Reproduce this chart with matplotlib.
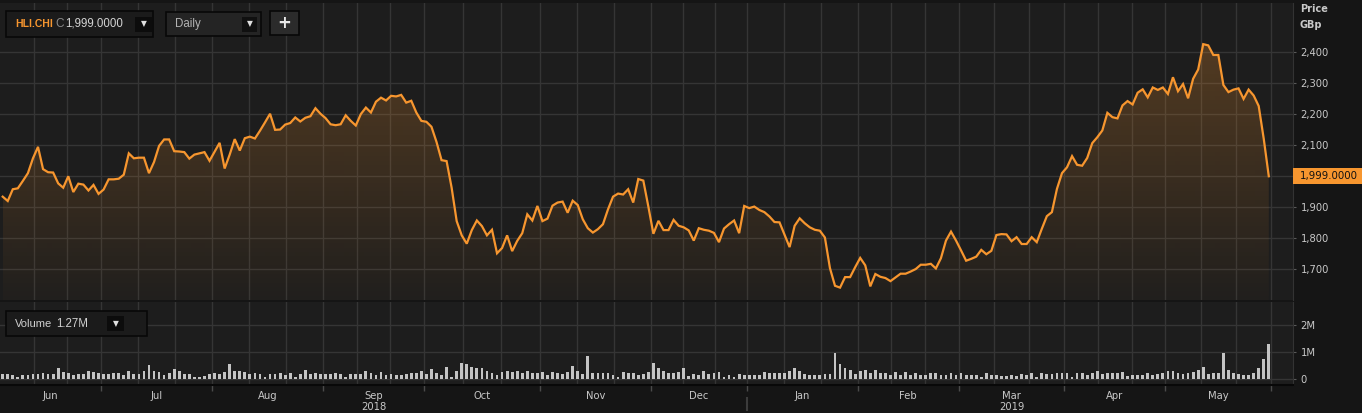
import matplotlib
matplotlib.use("Agg")
import matplotlib.pyplot as plt
import numpy as np
import pandas as pd
from matplotlib.patches import Rectangle
from matplotlib.colors import to_rgb
from matplotlib.transforms import blended_transform_factory

# daily closes (GBp), 4 Jun 2018 .. 31 May 2019
price = [
    1933, 1919, 1957, 1960, 1984, 2009, 2057, 2094, 2022, 2012,
    2011, 1976, 1962, 1999, 1948, 1975, 1972, 1953, 1971, 1942,
    1956, 1989, 1989, 1991, 2004, 2073, 2057, 2059, 2059, 2009,
    2045, 2097, 2118, 2118, 2080, 2079, 2077, 2056, 2069, 2073,
    2077, 2049, 2078, 2107, 2024, 2069, 2119, 2082, 2122, 2127,
    2121, 2146, 2173, 2201, 2149, 2150, 2166, 2171, 2189, 2176,
    2188, 2193,
    2219, 2201, 2187, 2167, 2164, 2167, 2196, 2178, 2163, 2200,
    2221, 2205, 2240, 2253, 2244, 2259, 2257, 2262, 2237, 2243,
    2205, 2178, 2175, 2159, 2110, 2051, 2048, 1962, 1854, 1808,
    1781, 1825, 1856, 1838, 1808, 1826, 1750, 1767, 1808, 1757,
    1790, 1815, 1876, 1856, 1903, 1854, 1862, 1904, 1914, 1917,
    1881, 1920, 1906, 1860, 1831, 1817, 1828, 1844, 1892, 1933,
    1943, 1940, 1957,
    1914, 1990, 1985, 1901, 1813, 1855, 1825, 1825, 1858, 1839,
    1834, 1824, 1791, 1831, 1826, 1823, 1816, 1786, 1830, 1844,
    1856, 1815, 1903, 1896, 1901, 1890, 1883, 1869, 1851, 1850,
    1810, 1770, 1839, 1863, 1847, 1834, 1826, 1823, 1801, 1702,
    1645, 1639, 1673, 1673, 1705, 1735, 1711, 1643, 1683, 1674,
    1670, 1660, 1672, 1684, 1684, 1691, 1699, 1713, 1713, 1716,
    1701, 1734, 1791,
    1820, 1791, 1759, 1726, 1732, 1739, 1761, 1747, 1758, 1809,
    1812, 1811, 1789, 1802, 1780, 1780, 1802, 1786, 1829, 1870,
    1883, 1958, 2009, 2028, 2064, 2036, 2033, 2058, 2106, 2125,
    2147, 2204, 2190, 2186, 2228, 2242, 2231, 2269, 2280, 2254,
    2286, 2278, 2286, 2265, 2319, 2274, 2297, 2251, 2314, 2344,
    2426, 2422, 2391, 2391, 2294, 2271, 2279, 2283, 2249, 2279,
    2260, 2226, 2120, 1999,
]

# daily volume, millions of shares
volume = [
    .17, .19, .15, .07, .12, .15, .17, .19, .22, .16,
    .17, .38, .25, .21, .15, .17, .17, .27, .25, .20,
    .19, .19, .21, .20, .15, .30, .17, .16, .27, .51,
    .30, .25, .12, .20, .36, .28, .16, .19, .07, .07,
    .10, .16, .20, .16, .25, .54, .30, .27, .26, .16,
    .22, .17, .06, .17, .17, .21, .15, .22, .07, .17,
    .31, .16, .21, .17, .17, .17, .20, .16, .07, .17,
    .17, .19, .27, .21, .12, .25, .15, .17, .15, .15,
    .17, .20, .20, .30, .17, .35, .20, .15, .42,
    .07, .27, .59, .56, .43, .40, .40, .27, .22, .15,
    .25, .27, .25, .30, .22, .27, .20, .20, .25, .15,
    .25, .20, .17, .25, .47, .27, .17, .85, .20, .22,
    .22, .20, .12, .07, .25, .22, .22, .12, .17, .25,
    .59, .40, .27, .22, .22, .25, .40, .10, .17, .15,
    .27, .17, .20, .25, .05, .12, .05, .17, .12, .12,
    .12, .12, .25, .20, .20, .22, .22, .30, .40, .27,
    .17, .15, .12, .12, .17, .17, .96, .54, .40, .32,
    .17, .27, .32, .20, .32, .20, .20, .15, .25,
    .12, .25, .15, .22, .12, .12, .20, .20, .15, .12,
    .22, .12, .20, .15, .12, .12, .07, .20, .15, .12,
    .10, .10, .12, .10, .17, .12, .20, .07, .20, .17,
    .17, .22, .22, .22, .07, .20, .20, .12, .20, .27,
    .17, .20, .22, .20, .25, .10, .12, .12, .12, .22,
    .12, .17, .22, .27, .30, .22, .17, .20, .25, .32,
    .44, .17, .20, .20, .96, .32, .20, .17, .15, .12,
    .22, .40, .74, 1.27,
]

uk_holidays = ["2018-08-27", "2018-12-25", "2018-12-26", "2019-01-01",
               "2019-04-19", "2019-04-22", "2019-05-06", "2019-05-27"]
price_ticks = [1700, 1800, 1900, 2000, 2100, 2200, 2300, 2400]
volume_ticks = [0, 1, 2]
volume_labels = ["0", "1M", "2M"]
ticker = "HLI.CHI"
interval = "Daily"

dates = pd.bdate_range("2018-06-04", "2019-05-31", freq="C", holidays=uk_holidays)
x = np.arange(len(price))

W, H = 1362, 413
ORANGE = "#f7962f"
GRID = "#353535"
TXT = "#c8c8c8"
BG = "#1d1d1d"
UI_FONT = ["Liberation Sans", "DejaVu Sans"]

fig = plt.figure(figsize=(W / 100, H / 100), dpi=100, facecolor="#151515")
ax = fig.add_axes([0, 1 - 300 / H, 1293 / W, 297 / H])
axv = fig.add_axes([0, 1 - 385 / H, 1293 / W, 83 / H])

for a in (ax, axv):
    a.set_facecolor(BG)
    for s in ("top", "left", "bottom"):
        a.spines[s].set_visible(False)
    a.spines["right"].set_color("#333333")
    a.yaxis.tick_right()
axv.spines["bottom"].set_visible(True)
axv.spines["bottom"].set_color("#080808")
axv.spines["bottom"].set_linewidth(1.5)

# month boundaries, thirds for vertical grid, centres for labels
mon = dates.to_period("M")
starts = [0] + [i for i in range(1, len(dates)) if mon[i] != mon[i - 1]]
bounds = [s - 0.5 for s in starts] + [len(dates) - 0.5]
centres = [(bounds[k] + bounds[k + 1]) / 2 for k in range(len(starts))]
vgrid = []
for k in range(len(starts)):
    b0, b1 = bounds[k], bounds[k + 1]
    vgrid += [b0 + (b1 - b0) / 3, b0 + 2 * (b1 - b0) / 3, b1]

labels = [dates[s].strftime("%b") for s in starts]
years = sorted(set(dates[s].year for s in starts))
for y in years:
    ks = [k for k, s in enumerate(starts) if dates[s].year == y]
    mid = ks[len(ks) // 2]
    labels[mid] += "\n%d" % y

for a in (ax, axv):
    for g in vgrid:
        a.axvline(g, color=GRID, lw=1, zorder=1)

# price panel
ylo, yhi = 1599, 2559
ax.plot(x, price, color=ORANGE, lw=1.6, zorder=4, solid_joinstyle="miter")
fill = ax.fill_between(x, price, ylo, facecolor="none", edgecolor="none")
rgba = np.zeros((256, 1, 4))
rgba[..., :3] = to_rgb(ORANGE)
rgba[:, 0, 3] = np.linspace(0.02, 0.25, 256)
im = ax.imshow(rgba, extent=[x[0], x[-1], ylo, max(price)], origin="lower",
               aspect="auto", zorder=3, interpolation="bilinear")
im.set_clip_path(fill.get_paths()[0], transform=ax.transData)
ax.set_xlim(-0.535, 255.8)
ax.set_ylim(ylo, yhi)
ax.set_yticks(price_ticks)
# the 2,000 label sits under the last-price marker
ax.set_yticklabels(["" if abs(t - price[-1]) < 50 else "{:,}".format(t) for t in price_ticks])
ax.grid(axis="y", color=GRID, lw=1)
ax.set_axisbelow(True)
ax.tick_params(axis="y", length=2.5, width=0.8, color="#5a5a5a",
               labelcolor=TXT, labelsize=7.2, pad=3)
ax.tick_params(axis="x", bottom=False, labelbottom=False)

# volume panel
axv.bar(x, volume, width=0.55, color="#c4c4c4", zorder=3)
axv.set_xlim(-0.535, 255.8)
axv.set_ylim(-0.233, 2.84)
axv.set_yticks(volume_ticks)
axv.set_yticklabels(volume_labels)
axv.grid(axis="y", color=GRID, lw=1)
axv.set_axisbelow(True)
axv.tick_params(axis="y", length=2.5, width=0.8, color="#5a5a5a",
                labelcolor=TXT, labelsize=7.2, pad=3)
axv.set_xticks(bounds[1:])
axv.set_xticklabels([])
axv.set_xticks(centres, minor=True)
axv.set_xticklabels(labels, minor=True)
axv.tick_params(axis="x", which="major", direction="out", length=4,
                width=1, color="#4a4a4a")
axv.tick_params(axis="x", which="minor", length=0, pad=4,
                labelcolor=TXT, labelsize=7.2)
for t in axv.get_xticklabels(minor=True):
    t.set_linespacing(1.15)

# year separator below the date labels
yb = [bounds[k] for k in range(1, len(starts)) if dates[starts[k]].year != dates[starts[k - 1]].year]
for b in yb:
    axv.plot([b, b], [-0.16, -0.30], transform=blended_transform_factory(axv.transData, axv.transAxes),
             color="#3c3c3c", lw=1.5, clip_on=False)

# last price marker on the axis
tr = blended_transform_factory(fig.transFigure, ax.transData)
fig.add_artist(Rectangle((1293 / W, price[-1] - 26), 1 - 1293 / W, 52,
                         transform=tr, facecolor=ORANGE, edgecolor="none", zorder=5))
fig.text(1300 / W, price[-1], "{:,.4f}".format(price[-1]), transform=tr,
         ha="left", va="center", fontsize=7.4, color="#111111", zorder=6)

fig.text(1300 / W, 1 - 9 / H, "Price", fontsize=7, fontweight="bold", color=TXT, va="center")
fig.text(1300 / W, 1 - 25 / H, "GBp", fontsize=7, fontweight="bold", color=TXT, va="center")


def px(xp, yp):
    return xp / W, 1 - yp / H


def box(x0, y0, x1, y1, fc, ec="#080808", lw=1.2):
    fig.add_artist(Rectangle(px(x0, y1), (x1 - x0) / W, (y1 - y0) / H,
                             facecolor=fc, edgecolor=ec, lw=lw, zorder=5))


def label(xp, yp, s, **kw):
    kw.setdefault("family", UI_FONT)
    fig.text(*px(xp, yp), s, va="center", zorder=6, **kw)


# toolbar widgets
box(6, 11, 153, 37, "#1b1b1b")
label(15, 24, ticker, fontsize=7.5, fontweight="bold", color=ORANGE)
label(55, 24, "C", fontsize=8.5, color="#8a8a8a")
label(65, 24, "{:,.4f}".format(price[-1]), fontsize=8.3, color="#d4d4d4")
box(135, 17, 152, 32, "#0c0c0c", ec="none")
label(143.5, 24, "\u25bc", fontsize=5.5, color="#e0e0e0", ha="center", family="DejaVu Sans")

box(166, 12, 261, 36, "#242424")
label(175, 24, interval, fontsize=8.3, color="#b4b4b4")
box(242, 17, 257, 32, "#101010", ec="none")
label(249.5, 24, "\u25bc", fontsize=5.5, color="#e0e0e0", ha="center", family="DejaVu Sans")

box(270, 11, 299, 35, "#2b2b2b")
label(284.5, 22.5, "+", fontsize=12, fontweight="bold", color="#e8e8e8", ha="center", family="DejaVu Sans")

box(6, 311, 147, 336, "#1b1b1b")
label(15, 324, "Volume", fontsize=8, color="#d0d0d0")
label(56, 324, "{:.2f}M".format(volume[-1]), fontsize=8.3, color="#d0d0d0")
box(107, 316, 124, 331, "#0c0c0c", ec="none")
label(115.5, 323.5, "\u25bc", fontsize=5.5, color="#e0e0e0", ha="center", family="DejaVu Sans")

fig.savefig("out.png", dpi=100, facecolor=fig.get_facecolor())
